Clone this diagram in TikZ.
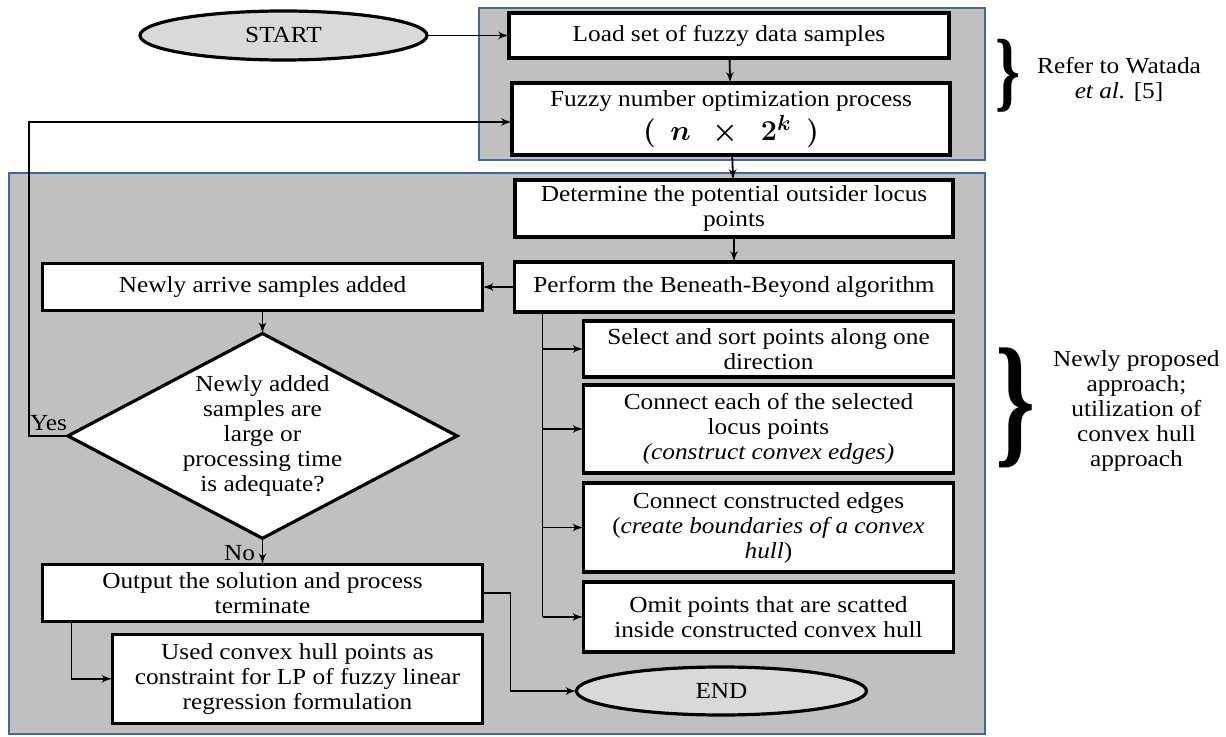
\documentclass[tikz,border=0pt]{standalone}
\usepackage{amsmath,amssymb}
\usepackage{fontspec}
\setmainfont{Liberation Serif}[FakeStretch=1.1]
\usepackage{tikz}
\usetikzlibrary{arrows,calc,positioning,shapes.geometric}
\definecolor{panelgray}{HTML}{C0C0C0}
\definecolor{panelblue}{HTML}{41689A}
\definecolor{termgray}{HTML}{D9D9D9}

\begin{document}
\begin{tikzpicture}[>=latex', line width=0.9pt, auto, align=center,
	every node/.style={font=\fontsize{11.5}{12.5}\selectfont},
	panel/.style={draw=panelblue, line width=1.3pt, fill=panelgray},
	procbox/.style={draw, line width=1.6pt, fill=white, inner sep=1pt, outer sep=0pt},
	term/.style={ellipse, draw, line width=1.6pt, fill=termgray, inner sep=0pt, outer sep=0pt},
	decision/.style={diamond, draw, line width=1.6pt, fill=white, aspect=1.9, inner sep=0pt, outer sep=0pt}]
		\useasboundingbox (0,0) rectangle (613pt,-368.5pt);
		% grey panels
		\draw[panel] (239.5pt,-4pt) rectangle (492.5pt,-80pt);
		\draw[panel] (4.5pt,-86.5pt) rectangle (492.5pt,-367pt);
		% main column
		\node[procbox, minimum width=220pt, minimum height=22.5pt] (load) at (364.5pt,-17.75pt) {Load set of fuzzy data samples};
		\node[term, minimum width=143.5pt, minimum height=24.5pt] [left=41pt of load] (start) {START};
		\node[procbox, minimum width=219pt, minimum height=36pt] [below=12.5pt of load, xshift=1pt] (fuzzy) {Fuzzy number optimization process\\[1pt] {\fontsize{15}{14}\selectfont\boldmath$(\;\,n\;\,\times\;\,2^{k}\;\,)$}};
		\node[procbox, minimum width=219pt, minimum height=28.5pt] [below=12.5pt of fuzzy, xshift=1.5pt] (determine) {Determine the potential outsider locus\\ points};
		\node[procbox, minimum width=219.5pt, minimum height=25pt] [below=12.5pt of determine] (perform) {Perform the Beneath-Beyond algorithm};
		% left column
		\node[procbox, minimum width=220pt, minimum height=23.5pt] [left=16pt of perform] (arrive) {Newly arrive samples added};
		\node[decision, minimum width=193pt, minimum height=102pt] [below=11.5pt of arrive] (check) {Newly added\\ samples are\\ large or\\ processing time\\ is adequate?};
		\node[procbox, minimum width=220pt, minimum height=28.5pt] [below=13pt of check] (output) {Output the solution and process\\ terminate};
		\node[procbox, minimum width=185pt, minimum height=44.5pt] [below=6.5pt of output.south east, anchor=north east] (used) {Used convex hull points as\\ constraint for LP of fuzzy linear\\ regression formulation};
		% convex hull steps
		\node[procbox, minimum width=185pt, minimum height=28pt] [below=4.5pt of perform.south east, anchor=north east] (select) {Select and sort points along one\\ direction};
		\node[procbox, minimum width=185pt, minimum height=44pt] [below=4pt of select] (connect) {Connect each of the selected\\ locus points\\ \textit{(construct convex edges)}};
		\node[procbox, minimum width=185pt, minimum height=44.5pt] [below=5pt of connect] (edges) {Connect constructed edges\\ (\textit{create boundaries of a convex}\\ \textit{hull})};
		\node[procbox, minimum width=185pt, minimum height=35pt] [below=5pt of edges] (omit) {Omit points that are scatted\\ inside constructed convex hull};
		\node[term, minimum width=145pt, minimum height=24pt] [below=7.5pt of omit, xshift=-23.5pt] (end) {END};
		% side notes
		\node (bracetop) at (503.75pt,-37.75pt) {\resizebox*{12.5pt}{36.5pt}{\textbf{\}}}};
		\node [right=1pt of bracetop, yshift=-2pt] (watada) {Refer to Watada\\ \textit{et al.} [5]};
		\node (bracebot) at (507.5pt,-204pt) {\resizebox*{20pt}{60pt}{\textbf{\}}}};
		\node [right=1.5pt of bracebot, yshift=-1.5pt] (proposed) {Newly proposed\\ approach;\\ utilization of\\ convex hull\\ approach};
		% connectors
		\path[->]
			(start) edge (load)
			(load) edge (fuzzy)
			(fuzzy) edge (determine)
			(determine) edge (perform)
			(perform) edge (arrive)
			(arrive) edge (check)
			(check) edge node[left=0pt, pos=0.55] {No} (output);
		\draw[->] (check.west) -- node[above=-1pt] {Yes} ++(-19.5pt,0) |- ([yshift=-1.5pt]fuzzy.west);
		\draw[->] ([xshift=14.5pt]output.south west) |- (used.west);
		\draw[->] (output.east) -- ++(14pt,0) |- (end.west);
		\coordinate (trunk) at ([xshift=14pt]perform.south west);
		\draw (trunk) -- (trunk |- omit.west);
		\path[->]
			(trunk |- select.west) edge (select.west)
			(trunk |- connect.west) edge (connect.west)
			(trunk |- edges.west) edge (edges.west)
			(trunk |- omit.west) edge (omit.west);
	\end{tikzpicture}
\end{document}
